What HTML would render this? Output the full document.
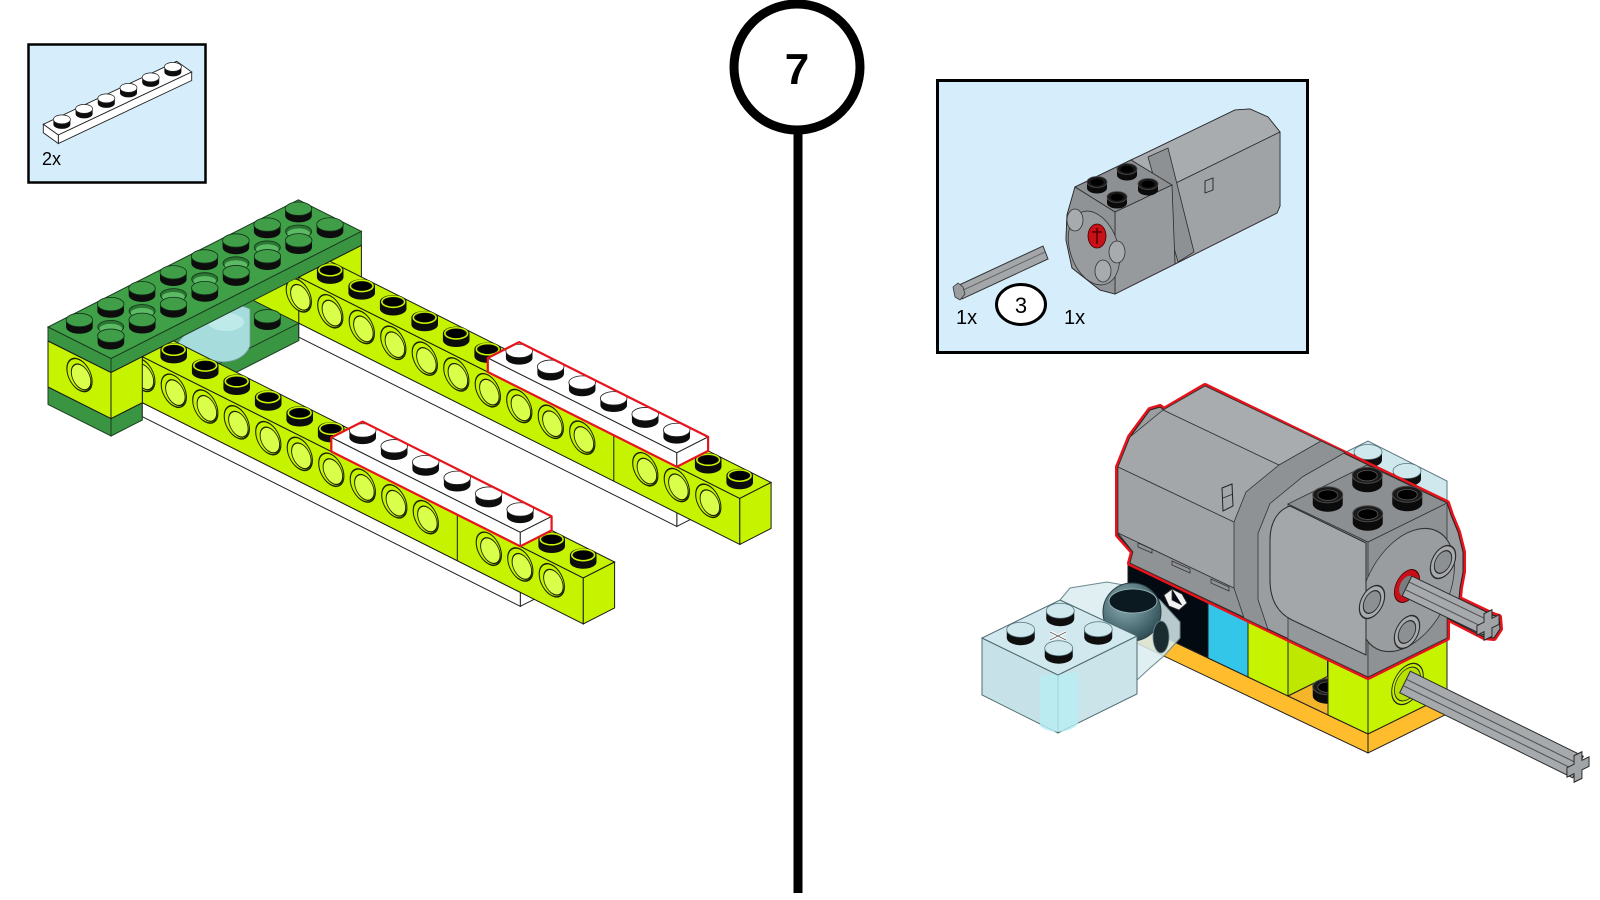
<!DOCTYPE html>
<html><head><meta charset="utf-8">
<style>
html,body{margin:0;padding:0;background:#fff;}
svg{display:block;}
text{font-family:"Liberation Sans",Arial,sans-serif;}
</style></head><body>
<svg width="1600" height="900" viewBox="0 0 1600 900" xmlns="http://www.w3.org/2000/svg">
<defs>
 <g id="gs">
  <path d="M-13.3,0 A13.3,6.7 0 0 0 13.3,0 V-7 H-13.3 Z" fill="#0d0d0d"/>
  <ellipse cx="0" cy="-7" rx="13.3" ry="6.7" fill="#3f9e47" stroke="#14301a" stroke-width="0.8"/>
 </g>
 <g id="gh">
  <ellipse cx="0" cy="0" rx="13" ry="6.5" fill="#2a7731" stroke="#14301a" stroke-width="0.8"/>
  <ellipse cx="0" cy="1.8" rx="11.3" ry="4.9" fill="#5cb964"/>
 </g>
 <g id="ls">
  <path d="M-13.3,0 A13.3,6.7 0 0 0 13.3,0 V-7 H-13.3 Z" fill="#0d0d0d"/>
  <ellipse cx="0" cy="-7" rx="13.3" ry="6.7" fill="#0d0d0d"/>
  <ellipse cx="0" cy="-7" rx="11.4" ry="5.6" fill="none" stroke="#c6f300" stroke-width="1.6"/>
  <ellipse cx="0" cy="-6.6" rx="9" ry="4.3" fill="#000"/>
 </g>
 <g id="ws">
  <path d="M-13.3,0 A13.3,6.7 0 0 0 13.3,0 V-7 H-13.3 Z" fill="#0d0d0d"/>
  <ellipse cx="0" cy="-7" rx="13.3" ry="6.7" fill="#fff" stroke="#222" stroke-width="0.8"/>
 </g>
 <g id="hl">
  <circle r="0.4" fill="#c6f300" stroke="#1b2200" stroke-width="0.035"/>
  <circle cx="0.05" cy="0.03" r="0.31" fill="#d9ff4a" stroke="#1b2200" stroke-width="0.03"/>
 </g>
 <g id="ms">
  <path d="M-15,0 A15,8 0 0 0 15,0 V-9 H-15 Z" fill="#0b0b0b"/>
  <ellipse cy="-9" rx="15" ry="8" fill="#1a1a1a" stroke="#4a4a4a" stroke-width="1"/>
  <ellipse cy="-8.6" rx="10" ry="5.3" fill="#000" stroke="#555" stroke-width="0.8"/>
 </g>
 <g id="ms2">
  <path d="M-10,0 A10,5.5 0 0 0 10,0 V-6 H-10 Z" fill="#0b0b0b"/>
  <ellipse cy="-6" rx="10" ry="5.5" fill="#1a1a1a" stroke="#4a4a4a" stroke-width="0.8"/>
  <ellipse cy="-5.7" rx="6.5" ry="3.5" fill="#000"/>
 </g>
 <g id="tst">
  <path d="M-14,0 A14,7.5 0 0 0 14,0 V-8 H-14 Z" fill="#0e0e0e"/>
  <ellipse cy="-8" rx="14" ry="7.5" fill="#cfe8ee" stroke="#55737a" stroke-width="0.8"/>
 </g>
 <g id="pws">
  <path d="M-8.5,0 A8.5,4.5 0 0 0 8.5,0 V-5 H-8.5 Z" fill="#0d0d0d"/>
  <ellipse cy="-5" rx="8.5" ry="4.5" fill="#fff" stroke="#222" stroke-width="0.7"/>
 </g>
 <g id="ph">
  <circle r="0.32" fill="#a8abae" stroke="#2a2a2a" stroke-width="0.03"/>
  <circle r="0.22" fill="#8d9093" stroke="#2a2a2a" stroke-width="0.025"/>
 </g>
 <clipPath id="cA"><polygon points="142.3,356.7 583.3,577.9 583.3,623.9 142.3,402.7"/></clipPath>
 <clipPath id="cB"><polygon points="253.3,300.4 298.8,277.2 739.8,498.4 739.8,544.4 298.8,323.2"/></clipPath>
 <radialGradient id="ball" cx="0.4" cy="0.35" r="0.7">
  <stop offset="0" stop-color="#8fb3b8"/><stop offset="1" stop-color="#2b4a52"/>
 </radialGradient>
</defs>

<rect width="1600" height="900" fill="#fff"/>

<!-- ===== Left parts box ===== -->
<rect x="28.5" y="44.5" width="177" height="138" fill="#d6eefc" stroke="#000" stroke-width="2.5"/>
<polygon points="43.3,124.3 58.3,135 191.7,72 176.7,61.3" fill="#fff" stroke="#222" stroke-width="0.9"/>
<polygon points="58.3,135 191.7,72 191.7,80.5 58.3,143.5" fill="#fff" stroke="#222" stroke-width="0.9"/>
<polygon points="43.3,124.3 58.3,135 58.3,143.5 43.3,132.8" fill="#fff" stroke="#222" stroke-width="0.9"/>
<use href="#pws" x="172.9" y="71.9"/><use href="#pws" x="150.7" y="82.4"/><use href="#pws" x="128.5" y="92.9"/>
<use href="#pws" x="106.3" y="103.4"/><use href="#pws" x="84.1" y="113.9"/><use href="#pws" x="61.9" y="124.4"/>
<text x="42" y="165" font-size="18" fill="#000">2x</text>

<!-- ===== Step number ===== -->
<rect x="793.5" y="128" width="9" height="765" fill="#000"/>
<circle cx="797" cy="67" r="63" fill="#fff" stroke="#000" stroke-width="9"/>
<text x="797" y="84" font-size="44" font-weight="bold" text-anchor="middle" fill="#000">7</text>

<!-- ===== Left assembly ===== -->
<polygon points="48,387 111,418.6 111,436 48,404.4" fill="#3a9542" stroke="#1c3d20" stroke-width="1"/>
<polygon points="111,418.6 142.3,402.7 142.3,420.1 111,436" fill="#3a9542" stroke="#1c3d20" stroke-width="1"/>
<polygon points="173.6,340.8 298.8,277.2 298.8,323.2 173.6,386.8" fill="#3f9c46"/>
<polygon points="173.6,386.8 298.8,323.2 298.8,340.6 173.6,404.2" fill="#3a9542" stroke="#1c3d20" stroke-width="1"/>
<polygon points="253.3,300.4 298.8,277.2 298.8,323.2" fill="#c6f300" stroke="#1a1a1a" stroke-width="0.8"/>
<path d="M178,343 C188,328 212,311 240,305 L250,309 L250,346 C246,356 236,362 222,362 C204,360 190,352 178,343 Z" fill="#a6dcdc" stroke="#6f9a9e" stroke-width="0.8"/>
<ellipse cx="226" cy="322" rx="18" ry="9" fill="#c4eeee" opacity="0.8"/>
<use href="#gs" x="267.4" y="323.25"/>

<polygon points="48,327 111,358.6 361.4,231.4 298.4,199.8" fill="#40a048" stroke="#1c3d20" stroke-width="1"/>
<polygon points="48,327 111,358.6 111,372.6 48,341" fill="#3a9542" stroke="#1c3d20" stroke-width="1"/>
<polygon points="111,358.6 361.4,231.4 361.4,245.4 111,372.6" fill="#3a9542" stroke="#1c3d20" stroke-width="1"/>
<use href="#gh" x="110.8" y="326.9"/><use href="#gh" x="142.1" y="311"/><use href="#gh" x="173.4" y="295.1"/>
<use href="#gh" x="204.7" y="279.2"/><use href="#gh" x="236" y="263.3"/><use href="#gh" x="267.3" y="247.4"/><use href="#gh" x="298.6" y="231.5"/>
<use href="#gs" x="298.5" y="215.7"/>
<use href="#gs" x="267.2" y="231.6"/><use href="#gs" x="330" y="231.45"/>
<use href="#gs" x="235.9" y="247.5"/><use href="#gs" x="298.7" y="247.35"/>
<use href="#gs" x="204.6" y="263.4"/><use href="#gs" x="267.4" y="263.25"/>
<use href="#gs" x="173.3" y="279.3"/><use href="#gs" x="236.1" y="279.15"/>
<use href="#gs" x="142" y="295.2"/><use href="#gs" x="204.8" y="295.05"/>
<use href="#gs" x="110.7" y="311.1"/><use href="#gs" x="173.5" y="310.95"/>
<use href="#gs" x="79.4" y="327"/><use href="#gs" x="142.2" y="326.85"/>
<use href="#gs" x="110.9" y="342.75"/>

<polygon points="48,341 111,372.6 111,418.6 48,387" fill="#c6f300" stroke="#1a1a1a" stroke-width="1"/>
<use href="#hl" transform="matrix(31.5 15.8 0 38.33 79.5 375)"/>
<polygon points="330.1,261.3 361.4,245.4 361.4,291.4 330.1,307.3" fill="#c6f300" stroke="#1a1a1a" stroke-width="1"/>

<!-- ===== Beam B ===== -->
<polygon points="676.8,512.4 708.1,496.5 708.1,510.5 676.8,526.4" fill="#fff" stroke="#222" stroke-width="1"/>
<polygon points="298.8,323.2 676.8,512.4 676.8,526.4 298.8,337.2" fill="#fff" stroke="#222" stroke-width="1"/>
<polygon points="298.8,277.2 739.8,498.4 739.8,544.4 298.8,323.2" fill="#c6f300" stroke="#1a1a1a" stroke-width="1"/>
<polygon points="298.8,277.2 739.8,498.4 771.1,482.5 330.1,261.3" fill="#c6f300" stroke="#1a1a1a" stroke-width="1"/>
<polygon points="739.8,498.4 771.1,482.5 771.1,528.5 739.8,544.4" fill="#c6f300" stroke="#1a1a1a" stroke-width="1"/>
<g clip-path="url(#cB)">
<use href="#hl" transform="matrix(31.5 15.8 0 38.33 298.8 295.4)"/>
<use href="#hl" transform="matrix(31.5 15.8 0 38.33 330.3 311.2)"/>
<use href="#hl" transform="matrix(31.5 15.8 0 38.33 361.8 327)"/>
<use href="#hl" transform="matrix(31.5 15.8 0 38.33 393.3 342.8)"/>
<use href="#hl" transform="matrix(31.5 15.8 0 38.33 424.8 358.6)"/>
<use href="#hl" transform="matrix(31.5 15.8 0 38.33 456.3 374.4)"/>
<use href="#hl" transform="matrix(31.5 15.8 0 38.33 487.8 390.2)"/>
<use href="#hl" transform="matrix(31.5 15.8 0 38.33 519.3 406)"/>
<use href="#hl" transform="matrix(31.5 15.8 0 38.33 550.8 421.8)"/>
<use href="#hl" transform="matrix(31.5 15.8 0 38.33 582.3 437.6)"/>
<use href="#hl" transform="matrix(31.5 15.8 0 38.33 645.3 469.2)"/>
<use href="#hl" transform="matrix(31.5 15.8 0 38.33 676.8 485)"/>
<use href="#hl" transform="matrix(31.5 15.8 0 38.33 708.3 500.8)"/>
</g>
<line x1="613.8" y1="435.2" x2="613.8" y2="481.2" stroke="#1a1a1a" stroke-width="1"/>
<use href="#ls" x="330.2" y="277.15"/><use href="#ls" x="361.7" y="292.95"/><use href="#ls" x="393.2" y="308.75"/>
<use href="#ls" x="424.7" y="324.55"/><use href="#ls" x="456.2" y="340.35"/><use href="#ls" x="487.7" y="356.15"/>
<polygon points="487.8,358 676.8,452.8 708.1,436.9 519.1,342.1" fill="#fff" stroke="#222" stroke-width="1"/>
<polygon points="487.8,358 676.8,452.8 676.8,466.8 487.8,372" fill="#fff" stroke="#222" stroke-width="1"/>
<polygon points="676.8,452.8 708.1,436.9 708.1,450.9 676.8,466.8" fill="#fff" stroke="#222" stroke-width="1"/>
<use href="#ws" x="519.2" y="357.95"/><use href="#ws" x="550.7" y="373.75"/><use href="#ws" x="582.2" y="389.55"/>
<use href="#ws" x="613.7" y="405.35"/><use href="#ws" x="645.2" y="421.15"/><use href="#ws" x="676.7" y="436.95"/>
<use href="#ls" x="708.2" y="466.75"/><use href="#ls" x="739.7" y="482.55"/>
<path d="M487.8,372 L487.8,358 L519.1,342.1 L708.1,436.9 L708.1,450.9 L676.8,466.8 Z" fill="none" stroke="#e8141c" stroke-width="2.2" stroke-linejoin="round"/>

<!-- ===== Beam A ===== -->
<polygon points="520.3,592.3 551.6,576.4 551.6,590.4 520.3,606.3" fill="#fff" stroke="#222" stroke-width="1"/>
<polygon points="142.3,402.7 520.3,592.3 520.3,606.3 142.3,416.7" fill="#fff" stroke="#222" stroke-width="1"/>
<polygon points="142.3,356.7 583.3,577.9 583.3,623.9 142.3,402.7" fill="#c6f300" stroke="#1a1a1a" stroke-width="1"/>
<polygon points="142.3,356.7 583.3,577.9 614.6,562 173.6,340.8" fill="#c6f300" stroke="#1a1a1a" stroke-width="1"/>
<polygon points="583.3,577.9 614.6,562 614.6,608 583.3,623.9" fill="#c6f300" stroke="#1a1a1a" stroke-width="1"/>
<g clip-path="url(#cA)">
<use href="#hl" transform="matrix(31.5 15.8 0 38.33 142.3 374.9)"/>
<use href="#hl" transform="matrix(31.5 15.8 0 38.33 173.8 390.7)"/>
<use href="#hl" transform="matrix(31.5 15.8 0 38.33 205.3 406.5)"/>
<use href="#hl" transform="matrix(31.5 15.8 0 38.33 236.8 422.3)"/>
<use href="#hl" transform="matrix(31.5 15.8 0 38.33 268.3 438.1)"/>
<use href="#hl" transform="matrix(31.5 15.8 0 38.33 299.8 453.9)"/>
<use href="#hl" transform="matrix(31.5 15.8 0 38.33 331.3 469.7)"/>
<use href="#hl" transform="matrix(31.5 15.8 0 38.33 362.8 485.5)"/>
<use href="#hl" transform="matrix(31.5 15.8 0 38.33 394.3 501.3)"/>
<use href="#hl" transform="matrix(31.5 15.8 0 38.33 425.8 517.1)"/>
<use href="#hl" transform="matrix(31.5 15.8 0 38.33 488.8 548.7)"/>
<use href="#hl" transform="matrix(31.5 15.8 0 38.33 520.3 564.5)"/>
<use href="#hl" transform="matrix(31.5 15.8 0 38.33 551.8 580.3)"/>
</g>
<line x1="457.3" y1="514.7" x2="457.3" y2="560.7" stroke="#1a1a1a" stroke-width="1"/>
<polygon points="111,372.6 142.3,356.7 142.3,402.7 111,418.6" fill="#c6f300" stroke="#1a1a1a" stroke-width="1"/>
<use href="#ls" x="173.7" y="356.65"/><use href="#ls" x="205.2" y="372.45"/><use href="#ls" x="236.7" y="388.25"/>
<use href="#ls" x="268.2" y="404.05"/><use href="#ls" x="299.7" y="419.85"/><use href="#ls" x="331.2" y="435.65"/>
<polygon points="331.3,437.5 520.3,532.3 551.6,516.4 362.6,421.6" fill="#fff" stroke="#222" stroke-width="1"/>
<polygon points="331.3,437.5 520.3,532.3 520.3,546.3 331.3,451.5" fill="#fff" stroke="#222" stroke-width="1"/>
<polygon points="520.3,532.3 551.6,516.4 551.6,530.4 520.3,546.3" fill="#fff" stroke="#222" stroke-width="1"/>
<use href="#ws" x="362.7" y="437.45"/><use href="#ws" x="394.2" y="453.25"/><use href="#ws" x="425.7" y="469.05"/>
<use href="#ws" x="457.2" y="484.85"/><use href="#ws" x="488.7" y="500.65"/><use href="#ws" x="520.2" y="516.45"/>
<use href="#ls" x="551.7" y="546.25"/><use href="#ls" x="583.2" y="562.05"/>
<path d="M331.3,451.5 L331.3,437.5 L362.6,421.6 L551.6,516.4 L551.6,530.4 L520.3,546.3 Z" fill="none" stroke="#e8141c" stroke-width="2.2" stroke-linejoin="round"/>

<!-- ===== Right parts box ===== -->
<rect x="937.5" y="80.5" width="370" height="272" fill="#d6eefc" stroke="#000" stroke-width="3"/>
<polygon points="957,286 1043,246 1048,259 962,299" fill="#a4a7aa" stroke="#333" stroke-width="1"/>
<line x1="959" y1="292" x2="1045" y2="252" stroke="#666" stroke-width="1"/>
<polygon points="953,287 958,283 963,287 965,294 960,300 955,297" fill="#9a9da0" stroke="#333" stroke-width="0.8"/>
<ellipse cx="1021" cy="304.5" rx="24.5" ry="20" fill="#fff" stroke="#000" stroke-width="3"/>
<text x="1021" y="313" font-size="22" text-anchor="middle" fill="#000">3</text>
<text x="956" y="324" font-size="20" fill="#000">1x</text>
<text x="1064" y="324" font-size="20" fill="#000">1x</text>
<polygon points="1067,215 1075,187 1131,160 1148,152 1235,110 1250,109 1268,117 1280,132 1280,206 1277,213 1175,264 1115,294 1100,290 1072,268 1066,240" fill="#9c9fa2" stroke="#2a2a2a" stroke-width="1"/>
<polygon points="1131,160 1148,152 1235,110 1250,109 1268,117 1280,132 1172,185" fill="#a9acaf" stroke="#2a2a2a" stroke-width="0.8"/>
<polygon points="1172,185 1280,132 1280,206 1277,213 1175,264" fill="#a0a3a6" stroke="#2a2a2a" stroke-width="0.8"/>
<polygon points="1148,157 1168,148 1194,252 1178,262" fill="#8e9194" stroke="#2a2a2a" stroke-width="0.8"/>
<polygon points="1075,187 1131,160 1172,185 1115,212" fill="#8d9093" stroke="#2a2a2a" stroke-width="0.8"/>
<polygon points="1115,212 1172,185 1175,264 1115,294" fill="#979a9d" stroke="#2a2a2a" stroke-width="0.8"/>
<polygon points="1075,187 1115,212 1115,294 1100,290 1072,268 1066,240 1067,215" fill="#909396" stroke="#2a2a2a" stroke-width="0.8"/>
<ellipse cx="1094" cy="248" rx="24" ry="38" transform="rotate(-18 1094 248)" fill="#999c9f" stroke="#333" stroke-width="0.8"/>
<ellipse cx="1075" cy="220" rx="8" ry="11" fill="#a8abae" stroke="#333" stroke-width="0.8"/>
<ellipse cx="1117" cy="252" rx="8" ry="11" fill="#a8abae" stroke="#333" stroke-width="0.8"/>
<ellipse cx="1103" cy="271" rx="8" ry="11" fill="#a8abae" stroke="#333" stroke-width="0.8"/>
<ellipse cx="1097" cy="236" rx="9" ry="12" fill="#c81018" stroke="#400" stroke-width="0.8"/>
<path d="M1092,232 h10 M1097,228 v16" stroke="#500" stroke-width="1.5"/>
<polygon points="1205,181 1213,178 1213,190 1205,193" fill="#a0a3a6" stroke="#222" stroke-width="0.9"/>
<use href="#ms2" x="1127" y="175"/><use href="#ms2" x="1097" y="188"/><use href="#ms2" x="1148" y="190"/><use href="#ms2" x="1117" y="203"/>

<!-- ===== Right assembly ===== -->
<polygon points="1128,620 1368,734 1368,753 1128,639" fill="#ffbd2e" stroke="#222" stroke-width="1"/>
<polygon points="1368,734 1447,695 1447,714 1368,753" fill="#ffbd2e" stroke="#222" stroke-width="1"/>
<polygon points="1128,563 1208,601 1208,658 1128,620" fill="#030a12" stroke="#222" stroke-width="1"/>
<polygon points="1208,601 1248,620 1248,677 1208,658" fill="#33c6e8" stroke="#222" stroke-width="1"/>
<polygon points="1248,620 1288,639 1288,696 1248,677" fill="#c6f300" stroke="#222" stroke-width="1"/>
<polygon points="1288,639 1327.5,619.5 1327.5,676.5 1288,696" fill="#bfe800" stroke="#222" stroke-width="1"/>
<polygon points="1288,696 1327.5,676.5 1367.5,695.5 1328,715" fill="#f5b52a" stroke="#222" stroke-width="1"/>
<use href="#ms" x="1327.75" y="695.75"/>
<polygon points="1328,658 1368,677 1368,734 1328,715" fill="#c6f300" stroke="#222" stroke-width="1"/>
<polygon points="1368,677 1447,638 1447,695 1368,734" fill="#c6f300" stroke="#222" stroke-width="1"/>
<g transform="matrix(39.5 -19.5 0 47.5 1407.5 684)">
 <circle r="0.4" fill="#c6f300" stroke="#222" stroke-width="0.025"/>
 <circle r="0.33" fill="#b8e000" stroke="#222" stroke-width="0.02"/>
</g>
<polygon points="1328,461 1368,441 1447,481 1447,505 1400,522 1330,482" fill="#cfe8ee" stroke="#5b777c" stroke-width="1"/>
<use href="#tst" x="1368" y="460"/><use href="#tst" x="1407" y="479"/>
<path d="M1205,386 L1447,503 L1451,515 L1458,532 L1463,552 L1463,572 L1460,588 L1459,598.8 L1493,615 L1499,617 L1500,629 L1494,638 L1484,637 L1447,618 L1447,638 L1368,677 L1130,563 L1133,552 L1118,535 L1118,467 L1130,437 L1150,410 L1160,407 L1164,410 L1193,393 Z" fill="#9b9ea1" stroke="#e8141c" stroke-width="6" stroke-linejoin="round"/>
<path d="M1205,386 L1447,503 L1451,515 L1458,532 L1463,552 L1463,572 L1460,588 L1459,598.8 L1493,615 L1499,617 L1500,629 L1494,638 L1484,637 L1447,618 L1447,638 L1368,677 L1130,563 L1133,552 L1118,535 L1118,467 L1130,437 L1150,410 L1160,407 L1164,410 L1193,393 Z" fill="#9b9ea1" stroke="#222" stroke-width="1" stroke-linejoin="round"/>
<polygon points="1205,386 1163,410 1283,467 1325,443" fill="#a9acaf" stroke="#333" stroke-width="0.8"/>
<polygon points="1163,410 1130,437 1118,467 1238,524 1250,494 1283,467" fill="#a4a7aa" stroke="#333" stroke-width="0.8"/>
<polygon points="1118,467 1118,533 1238,590 1238,524" fill="#a0a3a6" stroke="#333" stroke-width="0.8"/>
<polygon points="1118,533 1133,552 1130,563 1250,620 1238,590" fill="#909396" stroke="#333" stroke-width="0.8"/>
<polygon points="1321,441 1279,465 1246,492 1234,522 1234,588 1244,618 1268,629.5 1258,599.5 1258,533.5 1270,503.5 1303,476.5 1345,452.5" fill="#8f9295" stroke="#333" stroke-width="0.8"/>
<polygon points="1138,543 1152,549 1152,553 1138,547" fill="none" stroke="#333" stroke-width="0.8"/>
<polygon points="1172,561 1190,569 1190,573 1172,565" fill="none" stroke="#333" stroke-width="0.8"/>
<polygon points="1211,579 1229,587 1229,591 1211,583" fill="none" stroke="#333" stroke-width="0.8"/>
<polygon points="1222,488 1232,484 1233,506 1223,511" fill="#a3a6a9" stroke="#222" stroke-width="1"/>
<line x1="1223" y1="498" x2="1233" y2="494" stroke="#222" stroke-width="0.8"/>
<polygon points="1288,504 1368,542 1368,677 1288,639" fill="#95989b" stroke="#333" stroke-width="0.8"/>
<polygon points="1368,542 1447,503 1447,638 1368,677" fill="#8f9295" stroke="#333" stroke-width="0.8"/>
<g transform="matrix(39.5 -19.5 0 47.5 1407 590)">
 <circle r="1.2" fill="#9a9da0" stroke="#333" stroke-width="0.022"/>
</g>
<polygon points="1288,504 1368,542 1447,503 1367,465" fill="#8c8f92" stroke="#333" stroke-width="0.8"/>
<path d="M1290,506 L1366,543 L1366,655 L1292,620 C1276,612 1270,598 1270,580 L1270,540 C1270,522 1278,510 1290,506 Z" fill="#a4a7aa" stroke="#2a2a2a" stroke-width="1"/>
<use href="#ph" transform="matrix(39.5 -19.5 0 47.5 1443 562)"/>
<use href="#ph" transform="matrix(39.5 -19.5 0 47.5 1372 602)"/>
<use href="#ph" transform="matrix(39.5 -19.5 0 47.5 1407 632)"/>
<g transform="matrix(39.5 -19.5 0 47.5 1407 586)">
 <circle r="0.32" fill="#c8101a" stroke="#400" stroke-width="0.02"/>
 <circle r="0.2" fill="#7a7d80"/>
</g>
<use href="#ms" x="1367.25" y="484.25"/><use href="#ms" x="1327.75" y="503.75"/>
<use href="#ms" x="1407.25" y="503.25"/><use href="#ms" x="1367.75" y="522.75"/>
<polygon points="1411.8,576.1 1492.8,615.1 1483.2,634.9 1402.2,595.9" fill="#a6aaad" stroke="#2a2a2a" stroke-width="1"/>
<line x1="1409" y1="582" x2="1490" y2="621" stroke="#555" stroke-width="1"/>
<line x1="1406" y1="590" x2="1487" y2="629" stroke="#555" stroke-width="1"/>
<g transform="matrix(39.5 -19.5 0 47.5 1488 625)">
 <polygon points="-0.1,-0.28 0.1,-0.28 0.1,-0.1 0.28,-0.1 0.28,0.1 0.1,0.1 0.1,0.28 -0.1,0.28 -0.1,0.1 -0.28,0.1 -0.28,-0.1 -0.1,-0.1" fill="#a0a4a7" stroke="#2a2a2a" stroke-width="0.025"/>
</g>
<polygon points="1410.3,671.2 1583.3,756.2 1572.7,777.8 1399.7,692.8" fill="#a6aaad" stroke="#2a2a2a" stroke-width="1"/>
<line x1="1406.3" y1="679.3" x2="1579.3" y2="764.3" stroke="#555" stroke-width="1.1"/>
<line x1="1403.2" y1="685.6" x2="1576.2" y2="770.6" stroke="#555" stroke-width="1.1"/>
<g transform="matrix(39.5 -19.5 0 47.5 1578 767)">
 <polygon points="-0.1,-0.28 0.1,-0.28 0.1,-0.1 0.28,-0.1 0.28,0.1 0.1,0.1 0.1,0.28 -0.1,0.28 -0.1,0.1 -0.28,0.1 -0.28,-0.1 -0.1,-0.1" fill="#a0a4a7" stroke="#2a2a2a" stroke-width="0.025"/>
</g>
<polygon points="1060,600 1070,588 1107,582 1140,588 1160,600 1180,622 1180,638 1165,655 1150,668 1137,680 1137,636" fill="#d9ecf0" fill-opacity="0.85" stroke="#6d8a90" stroke-width="1"/>
<circle cx="1132" cy="612" r="29" fill="url(#ball)" stroke="#2a3e44" stroke-width="1"/>
<ellipse cx="1133" cy="601" rx="24" ry="12" fill="#0a1a20" stroke="#9fb8bc" stroke-width="0.8"/>
<ellipse cx="1161" cy="637" rx="8" ry="16" fill="#1b2c30" stroke="#6d8a90" stroke-width="0.8"/>
<path d="M1164,595 L1172,589 L1182,594 L1187,603 L1179,610 L1169,606 Z M1172,589 L1172,600 L1182,605 M1164,595 L1169,606" fill="#f2f2f2" stroke="#333" stroke-width="0.8"/>
<polygon points="982,638 1058,675 1058,733 982,695" fill="#c6e1e7" stroke="#4f6a70" stroke-width="1"/>
<polygon points="1058,675 1137,636 1137,694 1058,733" fill="#cbe4ea" stroke="#4f6a70" stroke-width="1"/>
<path d="M1040,676 L1040,726 C1048,734 1070,734 1078,724 L1078,672 Z" fill="#b5edf4" opacity="0.8"/>
<polygon points="982,638 1058,675 1137,636 1060,600" fill="#d1e9ee" stroke="#4f6a70" stroke-width="1"/>
<use href="#tst" x="1060.25" y="618.75"/><use href="#tst" x="1020.75" y="637.75"/>
<use href="#tst" x="1098.25" y="637.25"/>
<path d="M1050,632 L1066,640 M1050,640 L1066,632" stroke="#fff" stroke-width="3"/>
<path d="M1050,632 L1066,640 M1050,640 L1066,632" stroke="#555" stroke-width="0.8"/>
<use href="#tst" x="1058.75" y="656.25"/>
</svg>
</body></html>
